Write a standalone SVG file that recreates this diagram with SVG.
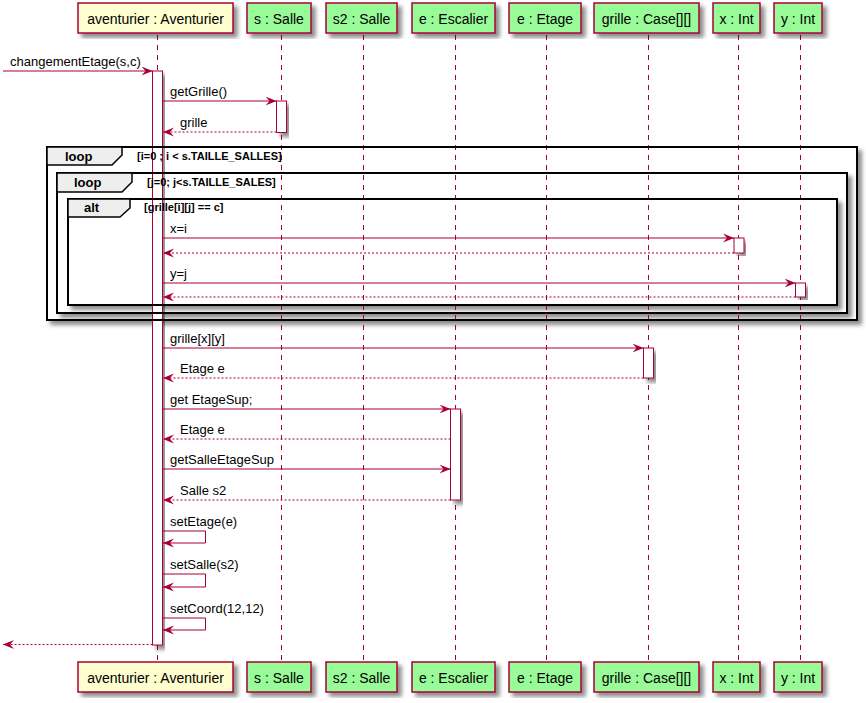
<svg xmlns="http://www.w3.org/2000/svg" width="866" height="703" viewBox="0 0 866 703">
<defs>
<filter id="sh" x="-20%" y="-20%" width="140%" height="140%">
<feGaussianBlur in="SourceAlpha" stdDeviation="2" result="b"/>
<feColorMatrix in="b" type="matrix" values="0 0 0 0 0  0 0 0 0 0  0 0 0 0 0  0 0 0 0.45 0" result="c"/>
<feOffset in="c" dx="4" dy="4" result="o"/>
<feMerge><feMergeNode in="o"/><feMergeNode in="SourceGraphic"/></feMerge>
</filter>
<marker id="ah" viewBox="0 0 11 10" refX="11" refY="5" markerWidth="11" markerHeight="10" markerUnits="userSpaceOnUse" orient="auto">
<path d="M0,0.5 L11,5 L0,9.5 L4,5 Z" fill="#A80036"/>
</marker>
</defs>
<style>
.pb{stroke:#A80036;stroke-width:1.5;filter:url(#sh)}
.av{fill:#FEFECE}
.gr{fill:#98FB98}
.pt{font-family:"Liberation Sans",Arial,sans-serif;font-size:14px;fill:#000;text-anchor:middle}
.ll{stroke:#A80036;stroke-width:1;stroke-dasharray:5,5;fill:none}
.act{fill:#FFFFFF;stroke:#A80036;stroke-width:1;filter:url(#sh)}
.frbg{fill:#FFFFFF;stroke:#000;stroke-width:2;filter:url(#sh)}
.fr{fill:none;stroke:#000;stroke-width:2}
.tab{fill:#EEEEEE;stroke:#000;stroke-width:1.5}
.fl{font-family:"Liberation Sans",Arial,sans-serif;font-size:13px;font-weight:bold;fill:#000}
.gd{font-family:"Liberation Sans",Arial,sans-serif;font-size:11px;font-weight:bold;fill:#000}
.m{stroke:#A80036;stroke-width:1;fill:none;marker-end:url(#ah)}
.r{stroke:#A80036;stroke-width:1;fill:none;stroke-dasharray:2,2;marker-end:url(#ah)}
.ml{font-family:"Liberation Sans",Arial,sans-serif;font-size:13px;fill:#000}
</style>

<g id="frame-backgrounds">
<rect class="frbg" x="47" y="147" width="810" height="173"/>
<rect class="frbg" x="57" y="173" width="790" height="140"/>
<rect class="frbg" x="68" y="199" width="769" height="106"/>
</g>

<g id="lifelines">
<line class="ll" x1="157.5" y1="35" x2="157.5" y2="662"/>
<line class="ll" x1="281.5" y1="35" x2="281.5" y2="662"/>
<line class="ll" x1="363.5" y1="35" x2="363.5" y2="662"/>
<line class="ll" x1="455.5" y1="35" x2="455.5" y2="662"/>
<line class="ll" x1="546.5" y1="35" x2="546.5" y2="662"/>
<line class="ll" x1="648.5" y1="35" x2="648.5" y2="662"/>
<line class="ll" x1="738.5" y1="35" x2="738.5" y2="662"/>
<line class="ll" x1="800.5" y1="35" x2="800.5" y2="662"/>
</g>

<g id="aventurier">
<rect class="pb av" x="78" y="3" width="155" height="30"/>
<text class="pt" x="155.5" y="24">aventurier : Aventurier</text>
<rect class="pb av" x="78" y="662" width="155" height="30"/>
<text class="pt" x="155.5" y="683">aventurier : Aventurier</text>
<rect class="act" x="152.5" y="71" width="10" height="574"/>
</g>
<g id="s">
<rect class="pb gr" x="247" y="3" width="64" height="30"/>
<text class="pt" x="279" y="24">s : Salle</text>
<rect class="pb gr" x="247" y="662" width="64" height="30"/>
<text class="pt" x="279" y="683">s : Salle</text>
<rect class="act" x="276.5" y="101" width="10" height="31.5"/>
</g>
<g id="s2">
<rect class="pb gr" x="326" y="3" width="71" height="30"/>
<text class="pt" x="361.5" y="24">s2 : Salle</text>
<rect class="pb gr" x="326" y="662" width="71" height="30"/>
<text class="pt" x="361.5" y="683">s2 : Salle</text>
</g>
<g id="escalier">
<rect class="pb gr" x="412" y="3" width="83" height="30"/>
<text class="pt" x="453.5" y="24">e : Escalier</text>
<rect class="pb gr" x="412" y="662" width="83" height="30"/>
<text class="pt" x="453.5" y="683">e : Escalier</text>
<rect class="act" x="450.5" y="409" width="10" height="91"/>
</g>
<g id="etage">
<rect class="pb gr" x="509" y="3" width="72" height="30"/>
<text class="pt" x="545" y="24">e : Etage</text>
<rect class="pb gr" x="509" y="662" width="72" height="30"/>
<text class="pt" x="545" y="683">e : Etage</text>
</g>
<g id="grille">
<rect class="pb gr" x="594" y="3" width="105" height="30"/>
<text class="pt" x="646.5" y="24">grille : Case[][]</text>
<rect class="pb gr" x="594" y="662" width="105" height="30"/>
<text class="pt" x="646.5" y="683">grille : Case[][]</text>
<rect class="act" x="643.5" y="348" width="10" height="30"/>
</g>
<g id="x">
<rect class="pb gr" x="713" y="3" width="47" height="30"/>
<text class="pt" x="736.5" y="24">x : Int</text>
<rect class="pb gr" x="713" y="662" width="47" height="30"/>
<text class="pt" x="736.5" y="683">x : Int</text>
<rect class="act" x="734" y="238" width="10" height="15"/>
</g>
<g id="y">
<rect class="pb gr" x="774" y="3" width="48" height="30"/>
<text class="pt" x="798" y="24">y : Int</text>
<rect class="pb gr" x="774" y="662" width="48" height="30"/>
<text class="pt" x="798" y="683">y : Int</text>
<rect class="act" x="795.5" y="283" width="10" height="14"/>
</g>

<g id="frames">
<rect class="fr" x="47" y="147" width="810" height="173"/>
<polygon class="tab" points="47,147 122,147 122,155 112,165 47,165"/>
<text class="fl" x="65" y="161">loop</text>
<text class="gd" x="137" y="160">[i=0 ; i &lt; s.TAILLE_SALLES]</text>
<rect class="fr" x="57" y="173" width="790" height="140"/>
<polygon class="tab" points="57,173 132,173 132,182 122,192 57,192"/>
<text class="fl" x="74" y="187">loop</text>
<text class="gd" x="147" y="186">[j=0; j&lt;s.TAILLE_SALES]</text>
<rect class="fr" x="68" y="199" width="769" height="106"/>
<polygon class="tab" points="68,199 130,199 130,208 120,217 68,217"/>
<text class="fl" x="84" y="212">alt</text>
<text class="gd" x="144" y="211">[grille[i][j] == c]</text>
</g>

<g id="connectors">
<line class="m" x1="3" y1="71" x2="152.5" y2="71"/>
<text class="ml" x="10" y="66">changementEtage(s,c)</text>
<line class="m" x1="162.5" y1="101" x2="276.5" y2="101"/>
<text class="ml" x="170" y="96">getGrille()</text>
<line class="r" x1="276.5" y1="132" x2="163" y2="132"/>
<text class="ml" x="180" y="127">grille</text>
<line class="m" x1="162.5" y1="238" x2="734" y2="238"/>
<text class="ml" x="170" y="233">x=i</text>
<line class="r" x1="734" y1="253" x2="163" y2="253"/>
<line class="m" x1="162.5" y1="283" x2="795.5" y2="283"/>
<text class="ml" x="170" y="278">y=j</text>
<line class="r" x1="795.5" y1="297" x2="163" y2="297"/>
<line class="m" x1="162.5" y1="348" x2="643.5" y2="348"/>
<text class="ml" x="170" y="343">grille[x][y]</text>
<line class="r" x1="643.5" y1="378" x2="163" y2="378"/>
<text class="ml" x="180" y="373">Etage e</text>
<line class="m" x1="162.5" y1="409" x2="450.5" y2="409"/>
<text class="ml" x="170" y="404">get EtageSup;</text>
<line class="r" x1="450.5" y1="439" x2="163" y2="439"/>
<text class="ml" x="180" y="434">Etage e</text>
<line class="m" x1="162.5" y1="469" x2="450.5" y2="469"/>
<text class="ml" x="170" y="464">getSalleEtageSup</text>
<line class="r" x1="450.5" y1="500" x2="163" y2="500"/>
<text class="ml" x="180" y="495">Salle s2</text>
<path class="m" d="M162.5,531 H205.5 V543 H163"/>
<text class="ml" x="170" y="526">setEtage(e)</text>
<path class="m" d="M162.5,574 H205.5 V587 H163"/>
<text class="ml" x="170" y="569">setSalle(s2)</text>
<path class="m" d="M162.5,618 H205.5 V630 H163"/>
<text class="ml" x="170" y="613">setCoord(12,12)</text>
<line class="r" x1="152.5" y1="644.5" x2="3" y2="644.5"/>
</g>
</svg>
